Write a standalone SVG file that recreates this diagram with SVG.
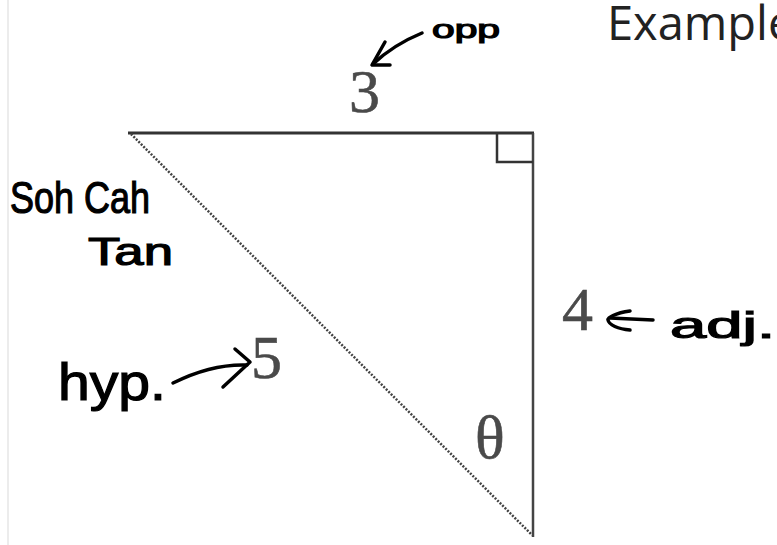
<svg xmlns="http://www.w3.org/2000/svg" width="777" height="545" viewBox="0 0 777 545">
<style>
.hand{font-family:"Liberation Sans","DejaVu Sans",sans-serif;fill:#000;stroke:#000;stroke-width:1.2}
.ink{fill:none;stroke:#000;stroke-width:3.5;stroke-linecap:round;stroke-linejoin:round}
.num{font-family:"Liberation Serif","DejaVu Serif",serif;fill:#4a4a4a;stroke:#4a4a4a;stroke-width:0.6;font-size:62px}
</style>
<rect width="777" height="545" fill="#fff"/>
<line x1="8" y1="0" x2="8" y2="545" stroke="#e6e6e6" stroke-width="1.5"/>
<g id="triangle">
<line x1="128" y1="133" x2="534" y2="133" stroke="#333" stroke-width="3"/>
<line x1="533" y1="133" x2="533" y2="537" stroke="#444" stroke-width="2.5"/>
<line x1="131" y1="134" x2="532" y2="535" stroke="#444" stroke-width="2.5" stroke-dasharray="2 1.5"/>
<polyline points="497,133 497,162 533,162" fill="none" stroke="#333" stroke-width="2.5"/>
</g>
<g id="labels">
<text class="num" x="349" y="112">3</text>
<text class="num" x="562" y="330">4</text>
<text class="num" x="251" y="378">5</text>
<text class="num" x="475" y="458">θ</text>
<text x="607" y="40" font-family="'Open Sans','Liberation Sans',sans-serif" font-size="47" fill="#222">Example</text>
</g>
<g id="handwriting">
<text class="hand" x="432" y="38" font-size="25" textLength="68" lengthAdjust="spacingAndGlyphs">opp</text>
<text class="hand" x="10" y="213" font-size="44" textLength="140" lengthAdjust="spacingAndGlyphs">Soh Cah</text>
<text class="hand" x="88" y="265" font-size="38" textLength="85" lengthAdjust="spacingAndGlyphs">Tan</text>
<text class="hand" x="58" y="400" font-size="52" textLength="108" lengthAdjust="spacingAndGlyphs">hyp.</text>
<text class="hand" x="670" y="338" font-size="36" textLength="105" lengthAdjust="spacingAndGlyphs">adj.</text>
</g>
<g id="connectors">
<path class="ink" d="M422,33 C405,40 390,48 373,64"/>
<path class="ink" d="M385,42 L372,65 L390,65"/>
<path class="ink" d="M173,383 C195,372 220,364 247,365"/>
<path class="ink" d="M235,349 L250,362 L223,387"/>
<path class="ink" d="M610,318 L653,320"/>
<path class="ink" d="M630,311 C615,313 607,318 608,320 C609,325 618,329 630,330"/>
</g>
</svg>
